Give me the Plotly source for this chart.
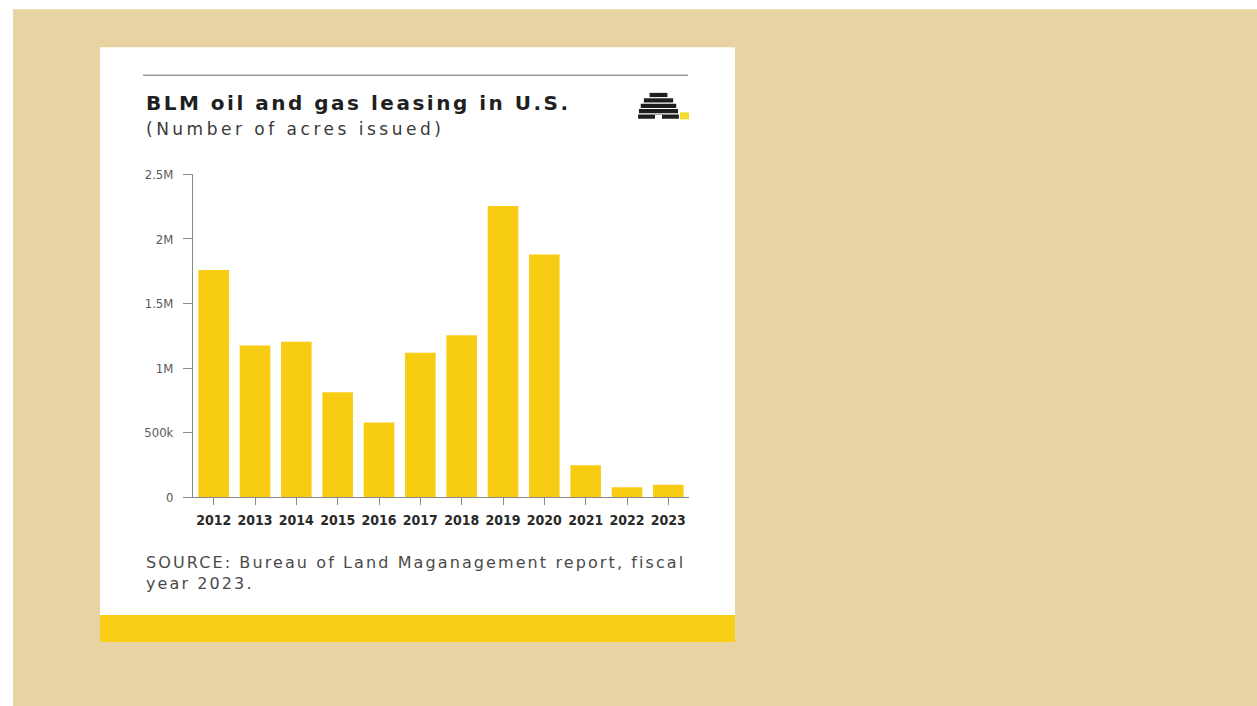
import plotly.graph_objects as go

# ---------------- data ----------------
years = ["2012", "2013", "2014", "2015", "2016", "2017",
         "2018", "2019", "2020", "2021", "2022", "2023"]
acres = [1760000, 1175000, 1205000, 815000, 580000, 1120000,
         1255000, 2255000, 1880000, 250000, 78000, 98000]
y_tickvals = [0, 500000, 1000000, 1500000, 2000000, 2500000]
y_ticktext = ["0", "500k", "1M", "1.5M", "2M", "2.5M"]

title_text = "BLM oil and gas leasing in U.S."
subtitle_text = "(Number of acres issued)"
source_lines = ["SOURCE: Bureau of Land Maganagement report, fiscal", "year 2023."]

# ---------------- geometry helpers (window pixels -> paper) ----------------
FW, FH = 1257, 714
VK, VOFF = 722 / 706, 8   # vertical compensation for the page capture


def fx(px):
    return px / FW


def fy(py):
    return 1 - (py * VK - VOFF) / FH


BG = "#E8D3A2"
YELLOW = "#F9CC14"
AXIS = "#8a8a8a"

fig = go.Figure()
fig.add_trace(go.Bar(
    x=years, y=acres, width=0.74,
    marker=dict(color=YELLOW, line=dict(width=0)),
    hoverinfo="skip",
))

shapes = []
# textured backdrop (approximated as flat beige)
shapes.append(dict(type="rect", xref="paper", yref="paper", layer="below",
                   x0=fx(13), x1=1.0, y0=0.0, y1=fy(10),
                   fillcolor=BG, line=dict(width=0)))
# white card
shapes.append(dict(type="rect", xref="paper", yref="paper", layer="below",
                   x0=fx(100), x1=fx(735), y0=fy(615), y1=fy(48),
                   fillcolor="white", line=dict(width=0)))
# yellow band at the bottom of the card
shapes.append(dict(type="rect", xref="paper", yref="paper", layer="below",
                   x0=fx(100), x1=fx(735), y0=fy(642), y1=fy(615),
                   fillcolor="#F8CF16", line=dict(width=0)))
# thin rule above the title
shapes.append(dict(type="line", xref="paper", yref="paper",
                   x0=fx(143), x1=fx(688), y0=fy(76), y1=fy(76),
                   line=dict(color="#9a9a9a", width=1.5)))

# beehive logo: stacked stripes forming a dome
cx, base, rw, rh = 658.5, 120.0, 20.5, 27.0
n_rows = 5
row_h = rh / n_rows
for i in range(n_rows):
    top = base - (i + 1) * row_h + 0.6
    bot = base - i * row_h - 0.6
    hmid = (i + 0.5) * row_h
    half = rw * (1 - (hmid / rh) ** 2) ** 0.5
    shapes.append(dict(type="rect", xref="paper", yref="paper",
                       x0=fx(cx - half), x1=fx(cx + half), y0=fy(bot), y1=fy(top),
                       fillcolor="#1e1e1e", line=dict(width=0)))
# entrance notch
shapes.append(dict(type="rect", xref="paper", yref="paper",
                   x0=fx(cx - 3.5), x1=fx(cx + 3.5), y0=fy(120), y1=fy(115.5),
                   fillcolor="white", line=dict(width=0)))
# yellow dot
shapes.append(dict(type="rect", xref="paper", yref="paper",
                   x0=fx(680), x1=fx(689), y0=fy(120), y1=fy(113),
                   fillcolor="#F2DB2A", line=dict(width=0)))

annotations = [
    dict(text='<span style="letter-spacing:2.5px">' + title_text + '</span>',
         xref="paper", yref="paper", x=fx(144), y=fy(104),
         xanchor="left", yanchor="middle", showarrow=False,
         font=dict(family="DejaVu Sans", size=20, color="#1f1f1f", weight="bold")),
    dict(text='<span style="letter-spacing:3.5px">' + subtitle_text + '</span>',
         xref="paper", yref="paper", x=fx(144), y=fy(130),
         xanchor="left", yanchor="middle", showarrow=False,
         font=dict(family="DejaVu Sans", size=17, color="#3a3a3a")),
    dict(text='<span style="letter-spacing:2.1px">' + "<br>".join(source_lines) + '</span>',
         xref="paper", yref="paper", x=fx(144), y=fy(551),
         xanchor="left", yanchor="top", align="left", showarrow=False,
         font=dict(family="DejaVu Sans", size=16, color="#4a4a4a")),
]

fig.update_layout(
    width=FW, height=FH,
    margin=dict(l=0, r=0, t=0, b=0),
    paper_bgcolor="white",
    plot_bgcolor="rgba(0,0,0,0)",
    showlegend=False,
    hovermode=False,
    shapes=shapes,
    annotations=annotations,
    xaxis=dict(
        domain=[fx(193), fx(689)],
        type="category",
        range=[-0.5, 11.5],
        showline=True, linecolor=AXIS, linewidth=1,
        ticks="outside", ticklen=7, tickcolor=AXIS, tickwidth=1,
        showgrid=False, zeroline=False,
        tickangle=0,
        tickfont=dict(family="DejaVu Sans Condensed, Liberation Sans Narrow, Arial Narrow, DejaVu Sans",
                      size=14, color="#2a2a2a", weight="bold"),
        ticklabelstandoff=3,
    ),
    yaxis=dict(
        domain=[fy(497.7), fy(175)],
        range=[0, 2500000],
        tickvals=y_tickvals, ticktext=y_ticktext,
        showline=True, linecolor=AXIS, linewidth=1,
        ticks="outside", ticklen=9, tickcolor=AXIS, tickwidth=1,
        showgrid=False, zeroline=False,
        tickfont=dict(family="DejaVu Sans Condensed, Liberation Sans Narrow, Arial Narrow, sans-serif",
                      size=13, color="#5a5a5a"),
        ticklabelstandoff=7,
    ),
)

fig.write_html(
    "out.html",
    post_script="document.documentElement.style.margin='0';document.body.style.margin='0';"
                "document.documentElement.style.overflow='hidden';document.body.style.overflow='hidden';",
)
